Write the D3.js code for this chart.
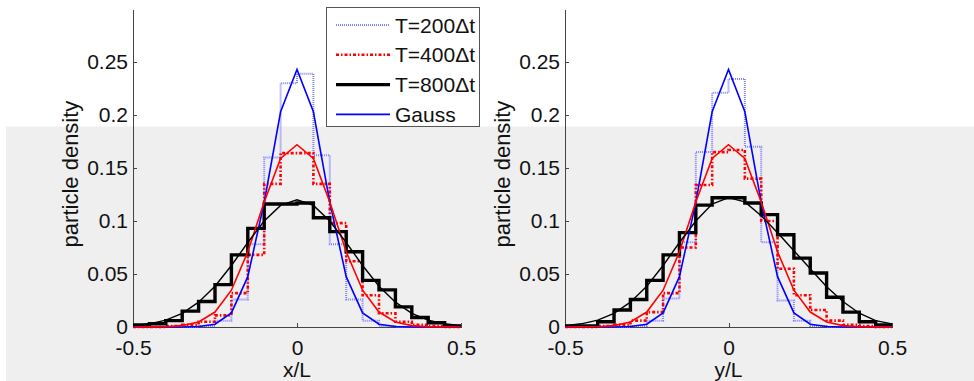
<!DOCTYPE html>
<html>
<head>
<meta charset="utf-8">
<script src="https://cdn.jsdelivr.net/npm/d3@7"></script>
<style>
  html,body{margin:0;padding:0;background:#fff;}
  svg{display:block;font-family:"Liberation Sans",Arial,Helvetica,sans-serif;}
  .axis path,.axis line{stroke:#444;stroke-width:1;shape-rendering:crispEdges;}
  .axis text{font-size:21px;fill:#111;}
</style>
</head>
<body>
<div id="chart"></div>
<script>
/* Particle density profiles at three times, x and y panels, with Gauss fits. */

// bin positions (stairs start at these points), in units of L
var binPos=[-0.5,-0.45,-0.4,-0.35,-0.3,-0.25,-0.2,-0.15,-0.1,-0.05,0,0.05,0.1,0.15,0.2,0.25,0.3,0.35,0.4,0.45,0.5];
var xTicks=[-0.5,0,0.5];
var yTicks=[0,0.05,0.1,0.15,0.2,0.25];

// Gauss curves (thin lines)
var gauss200=[0,0,0,0,0.0004,0.0026,0.0133,0.0475,0.1176,0.203,0.243,0.203,0.1176,0.0475,0.0133,0.0026,0.0004,0,0,0,0];
var gauss400=[0,0.0001,0.0003,0.0013,0.0047,0.0141,0.0347,0.071,0.118,0.159,0.172,0.159,0.118,0.071,0.0347,0.0141,0.0047,0.0013,0.0003,0.0001,0];
var gaussX800=[0.0013,0.003,0.0065,0.0129,0.0234,0.0385,0.058,0.0797,0.100,0.1147,0.120,0.1147,0.100,0.0797,0.058,0.0385,0.0234,0.0129,0.0065,0.003,0.0013];
var gaussY800=[0.0013,0.003,0.0065,0.0129,0.0234,0.0385,0.058,0.0797,0.100,0.1160,0.122,0.118,0.105,0.089,0.072,0.055,0.038,0.024,0.013,0.006,0.003];

// histograms along x
var histX200=[0,0,0,0,0.001,0.006,0.026,0.078,0.16,0.230,0.239,0.162,0.078,0.026,0.006,0.001,0,0,0,0,0];
var histX400=[0,0,0.001,0.002,0.005,0.011,0.032,0.068,0.135,0.164,0.164,0.135,0.098,0.062,0.030,0.013,0.005,0.002,0.001,0,0];
var histX800=[0.002,0.003,0.006,0.015,0.024,0.040,0.068,0.093,0.116,0.116,0.117,0.103,0.090,0.071,0.044,0.035,0.019,0.009,0.004,0.001,0.001];

// histograms along y
var histY200=[0,0,0,0,0.001,0.006,0.027,0.08,0.165,0.221,0.234,0.17,0.08,0.025,0.006,0.001,0,0,0,0,0];
var histY400=[0,0,0.001,0.002,0.006,0.014,0.032,0.075,0.134,0.165,0.167,0.14,0.1,0.055,0.03,0.016,0.006,0.002,0.001,0,0];
var histY800=[0.001,0.001,0.005,0.016,0.026,0.044,0.068,0.089,0.115,0.122,0.122,0.117,0.106,0.087,0.065,0.051,0.028,0.014,0.005,0.002,0.002];

var legendNames=["T=200\u0394t","T=400\u0394t","T=800\u0394t","Gauss"];

var W=974,H=381;
var svg=d3.select("#chart").append("svg").attr("width",W).attr("height",H);

// light grey band behind the lower part of the figure
svg.append("rect").attr("x",6).attr("y",126.5).attr("width",W-6).attr("height",H-126.5).attr("fill","#efefef");

var styles={
  h200:{stroke:"#8080ff",width:2,dash:"1,1"},
  h400:{stroke:"#ff0000",width:2.6,dash:"3,2,1.5,2"},
  h800:{stroke:"#000",width:3.4,dash:null},
  g200:{stroke:"#0000ff",width:1.6,dash:null},
  g400:{stroke:"#ff0000",width:1.6,dash:null},
  g800:{stroke:"#000",width:1.4,dash:null}
};

function panel(left,right,xLabel,h200,h400,h800,g800){
  var x=d3.scaleLinear().domain([-0.5,0.5]).range([left,right]);
  var y=d3.scaleLinear().domain([0,0.3]).range([327,9]);

  svg.append("g").attr("class","axis").attr("transform","translate(0,327)")
    .call(d3.axisBottom(x).tickValues(xTicks).tickSizeInner(-4).tickSizeOuter(0).tickPadding(13).tickFormat(function(d){return String(d);}));
  svg.append("g").attr("class","axis").attr("transform","translate("+left+",0)")
    .call(d3.axisLeft(y).tickValues(yTicks).tickSizeInner(-4).tickSizeOuter(0).tickPadding(5).tickFormat(function(d){return String(d);}));

  svg.append("text").attr("x",(left+right)/2).attr("y",377).attr("text-anchor","middle")
    .style("font-size","21px").style("fill","#111").text(xLabel);
  svg.append("text").attr("transform","translate("+(left-63)+",174) rotate(-90)").attr("text-anchor","middle")
    .attr("dy","0.35em").style("font-size","22px").style("fill","#111").text("particle density");

  var stairs=d3.line().x(function(d,i){return x(binPos[i]);}).y(function(d){return y(d);}).curve(d3.curveStepAfter);
  var smooth=d3.line().x(function(d,i){return x(binPos[i]);}).y(function(d){return y(d);});

  function draw(gen,vals,st){
    svg.append("path").attr("d",gen(vals)).attr("fill","none").attr("stroke",st.stroke)
      .attr("stroke-width",st.width).attr("stroke-dasharray",st.dash).attr("stroke-linejoin","miter");
  }
  draw(stairs,h200,styles.h200);
  draw(stairs,h400,styles.h400);
  draw(stairs,h800,styles.h800);
  draw(smooth,gauss200,styles.g200);
  draw(smooth,gauss400,styles.g400);
  draw(smooth,g800,styles.g800);
}

panel(133,461,"x/L",histX200,histX400,histX800,gaussX800);
panel(565,892,"y/L",histY200,histY400,histY800,gaussY800);

// legend box over the left panel
var lg=svg.append("g");
lg.append("rect").attr("x",326.5).attr("y",7.5).attr("width",153).attr("height",119)
  .attr("fill","#fff").attr("stroke","#555").attr("stroke-width",1);
var legStyles=[styles.h200,styles.h400,styles.h800,styles.g200];
legendNames.forEach(function(name,i){
  var cy=25+i*29.8;
  var st=legStyles[i];
  lg.append("line").attr("x1",336).attr("x2",390).attr("y1",cy).attr("y2",cy)
    .attr("stroke",st.stroke).attr("stroke-width",st.width).attr("stroke-dasharray",st.dash);
  lg.append("text").attr("x",395).attr("y",cy).attr("dy","0.36em")
    .style("font-size","21px").style("fill","#111").text(name);
});
</script>
</body>
</html>
